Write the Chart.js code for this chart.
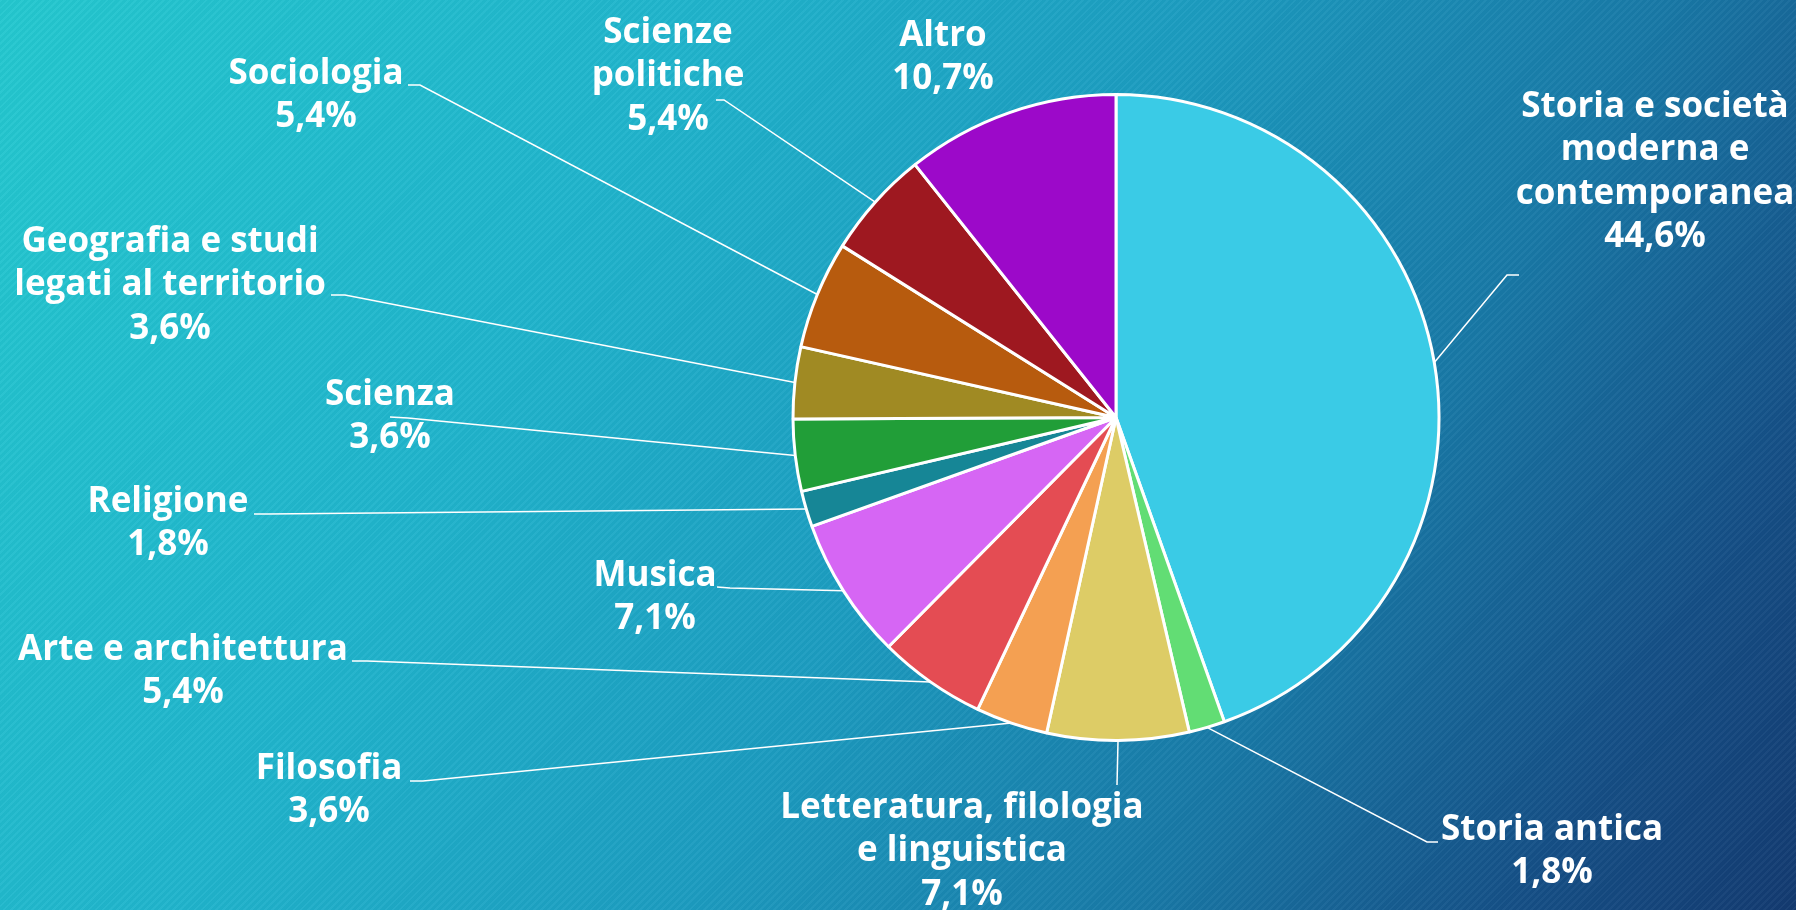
<!DOCTYPE html>
<html lang="it">

<head>
    <meta charset="UTF-8">
    <title>Distribuzione per area tematica</title>
    <script src="https://cdn.jsdelivr.net/npm/chart.js"></script>
    <style>
        html,
        body {
            margin: 0;
            padding: 0;
            width: 1796px;
            height: 910px;
            overflow: hidden;
        }

        body {
            background:
                repeating-linear-gradient(135deg, rgba(255, 255, 255, 0.035) 0px, rgba(255, 255, 255, 0.035) 2px, rgba(0, 0, 0, 0.02) 2px, rgba(0, 0, 0, 0.02) 5px),
                linear-gradient(120deg, #24c8cf 0%, #20b4cc 30%, #1c9cc0 52%, #1878a6 72%, #154f86 88%, #133a70 100%);
        }

        .chart-box {
            position: absolute;
            left: 0;
            top: 0;
            width: 1796px;
            height: 910px;
        }
    </style>
</head>

<body>
    <div class="chart-box">
        <canvas id="torta"></canvas>
    </div>
    <script>
        // dati
        const categorie = [
            ['Storia e società', 'moderna e', 'contemporanea'],
            ['Storia antica'],
            ['Letteratura, filologia', 'e linguistica'],
            ['Filosofia'],
            ['Arte e architettura'],
            ['Musica'],
            ['Religione'],
            ['Scienza'],
            ['Geografia e studi', 'legati al territorio'],
            ['Sociologia'],
            ['Scienze', 'politiche'],
            ['Altro']
        ];
        const percentuali = [44.6, 1.8, 7.1, 3.6, 5.4, 7.1, 1.8, 3.6, 3.6, 5.4, 5.4, 10.7];
        const colori = ['#3acbe6', '#62dd74', '#ddcc66', '#f4a052', '#e44c53', '#d666f4',
            '#168696', '#219e38', '#a08a23', '#b75b0e', '#9e1820', '#9c09c9'];

        // posizione delle etichette: centro testo x, y prima riga
        const posEtichette = [
            [1655, 107], [1552, 830], [962, 808], [329, 769], [183, 650], [655, 576],
            [168, 502], [390, 395], [170, 242], [316, 74], [668, 33], [943, 36]
        ];
        // linee guida: gomito e punto finale (null = nessuna linea)
        const gomiti = [
            [1507, 275], [1427, 842], [1117, 785], [423, 781], [367, 661], [730, 588],
            [268, 514], [408, 418], [345, 295], [420, 85], [724, 100], null
        ];
        const fineLinee = [
            [1519, 275], [1438, 842], [1117, 785], [410, 781], [352, 661], [717, 587],
            [254, 514], [390, 417], [331, 295], [408, 85], [716, 100], null
        ];

        const formatta = v => v.toFixed(1).replace('.', ',') + '%';

        const etichetteEsterne = {
            id: 'etichetteEsterne',
            afterDatasetsDraw(chart) {
                const ctx = chart.ctx;
                const archi = chart.getDatasetMeta(0).data;
                ctx.save();
                ctx.strokeStyle = '#ffffff';
                ctx.lineWidth = 1.5;
                archi.forEach((arco, i) => {
                    if (!gomiti[i]) return;
                    const p = arco.getProps(['x', 'y', 'startAngle', 'endAngle', 'outerRadius'], true);
                    const a = (p.startAngle + p.endAngle) / 2;
                    ctx.beginPath();
                    ctx.moveTo(p.x + Math.cos(a) * p.outerRadius, p.y + Math.sin(a) * p.outerRadius);
                    ctx.lineTo(gomiti[i][0], gomiti[i][1]);
                    ctx.lineTo(fineLinee[i][0], fineLinee[i][1]);
                    ctx.stroke();
                });

                ctx.fillStyle = '#ffffff';
                ctx.font = 'bold 35px "Open Sans", sans-serif';
                ctx.textAlign = 'center';
                ctx.textBaseline = 'middle';
                const valori = chart.data.datasets[0].data;
                chart.data.labels.forEach((righe, i) => {
                    const linee = righe.concat([formatta(valori[i])]);
                    linee.forEach((t, k) => {
                        ctx.fillText(t, posEtichette[i][0], posEtichette[i][1] + k * 43.5);
                    });
                });
                ctx.restore();
            }
        };

        new Chart(document.getElementById('torta'), {
            type: 'pie',
            data: {
                labels: categorie,
                datasets: [{
                    data: percentuali,
                    backgroundColor: colori,
                    borderColor: '#ffffff',
                    borderWidth: 3
                }]
            },
            options: {
                responsive: true,
                maintainAspectRatio: false,
                animation: false,
                layout: { padding: { left: 786, right: 350, top: 93, bottom: 168 } },
                plugins: {
                    legend: { display: false },
                    tooltip: { enabled: false }
                }
            },
            plugins: [etichetteEsterne]
        });
    </script>
</body>

</html>
